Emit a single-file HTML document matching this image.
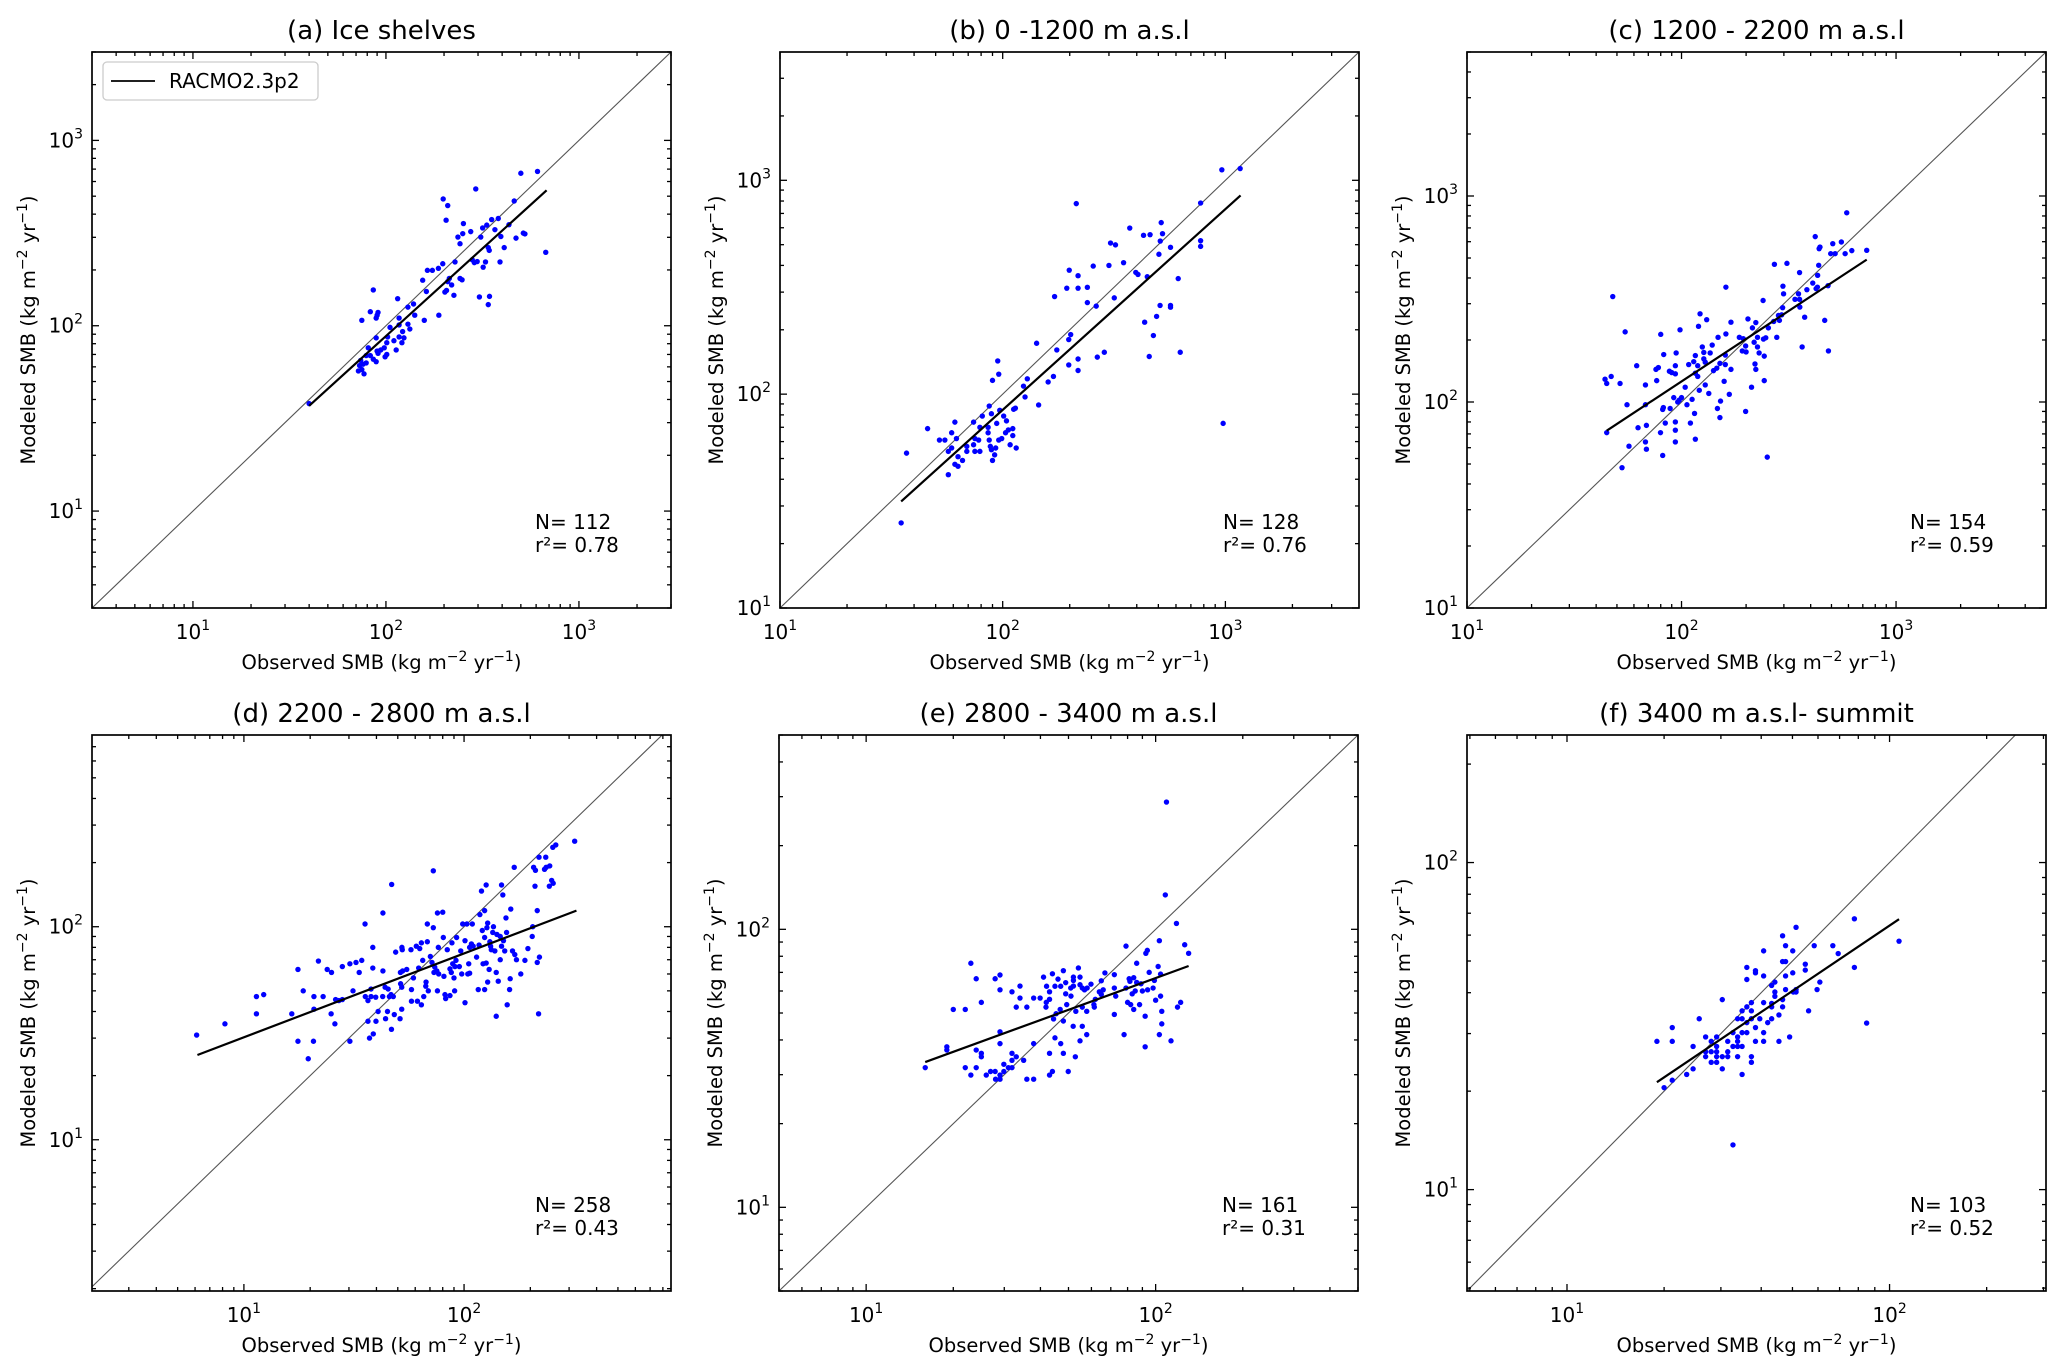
<!DOCTYPE html>
<html><head><meta charset="utf-8"><style>
html,body{margin:0;padding:0;background:#fff}
svg{display:block}
text{font-family:"DejaVu Sans","Liberation Sans",sans-serif;fill:#000}
</style></head>
<body>
<svg id="fig" width="2067" height="1368" viewBox="0 0 2067 1368" xmlns="http://www.w3.org/2000/svg"></svg>
<script>
// ---- Panel (a) Ice shelves ----
const obsA=[40,610,500,292,198,209,205,462,673,252,236,250,275,242,317,333,353,382,367,434,394,472,515,525,310,339,343,410,280,287,297,328,390,319,228,197,187,164,174,155,213,209,219,242,248,202,206,225,162,305,344,339,86,115,130,139,141,158,188,83,91,90,89,75,117,105,117,130,133,122,117,124,110,121,101,102,89,113,98,94,90,101,99,91,81,83,79,74,76,79,86,89,72,75,77,73];
const modA=[38,680,665,547,483,445,371,471,249,356,301,314,322,277,337,349,374,379,330,351,303,297,316,313,301,264,255,264,227,219,222,221,221,207,221,216,204,199,199,176,180,173,166,180,177,152,155,146,153,143,144,130,156,140,126,131,114,107,114,119,118,114,110,107,110,98,101,102,96,93,87,86,83,81,81,87,86,74,76,74,73,70,68,71,76,69,69,65,62,63,66,64,57,58,55,61];
const fitXA=[40,680], fitYA=[37,538];
// ---- Panel (b) 0-1200 m ----
const obsB=[35,37,46,57,52,55,59,61,62,57,59,63,61,63,66,69,69,74,75,74,75,79,78,79,81,86,86,87,88,89,90,92,93,96,99,103,106,111,111,108,115,94,101,97,89,87,104,112,114,90,96,95,124,126,129,145,142,160,169,175,198,198,202,218,218,266,286,171,194,199,218,218,240,240,263,214,255,300,305,321,349,317,372,429,459,515,522,510,503,567,396,405,446,614,509,567,567,491,434,475,455,627,774,774,774,964,1165,977];
const modB=[25,53,69,42,61,61,66,74,62,54,56,51,47,46,49,57,54,74,62,58,54,70,61,54,79,70,66,61,57,55,49,52,56,61,62,66,68,69,64,58,56,73,79,84,81,88,75,85,86,116,124,143,109,97,118,89,173,114,121,161,137,180,190,146,129,149,157,286,313,380,358,313,316,268,258,778,397,400,509,499,412,282,598,553,557,634,563,520,451,486,371,363,354,347,260,260,255,231,217,188,150,157,783,522,491,1120,1135,73];
const fitXB=[35,1170], fitYB=[31.5,850];
// ---- Panel (c) 1200-2200 m ----
const obsC=[47.8,54.6,44,44.8,47,51.7,44.8,55.7,52.8,56.9,62.7,61.8,67.9,67.9,68.6,67.9,68.6,76.6,76,78,80,82.6,79.8,81.7,82.3,81.7,84,87.8,90,93.6,93.6,94.4,88.5,92,93.6,93.6,93.6,98.4,96,97.4,100,104,106,112,110,115,116,108,114,116,119,116,119,121,125,127,127,129,129,134,120,122,131,136,139,141,146,148,151,152,147,151,158,160,160,161,161,167,170,170,186,192,194,199,200,199,204,214,218,222,212,220,222,226,226,230,240,243,243,241,247,251,254,271,269,278,286,283,293,296,299,297,310,338,351,355,356,355,365,375,384,409,424,430,431,436,420,438,442,465,482,484,496,507,520,556,579,589,622,730];
const modC=[325,219,129,123,133,123,71,97,48,61,75,150,121,97,77,64,59,127,144,147,213,170,71,55,94,92,79,141,139,150,137,173,93,105,80,73,64,224,100,102,105,118,97,103,79,88,66,152,157,168,150,138,133,114,185,174,162,156,121,110,233,268,251,173,189,142,146,206,154,101,93,84,126,152,169,214,361,109,244,144,206,177,203,90,175,187,253,229,195,243,118,153,144,206,185,173,311,167,127,202,205,54,229,466,246,206,249,263,265,287,335,365,471,315,335,315,289,425,185,258,351,378,355,361,412,461,635,555,565,249,367,177,525,587,525,598,525,829,543,545];
const fitXC=[44.8,730], fitYC=[72.6,491];
// ---- Panel (d) 2200-2800 m ----
const obsD=[6.1,8.2,11.4,12.3,11.4,16.5,17.6,18.6,17.6,19.6,20.7,20.8,20.8,21.8,22.9,23.9,25,24.9,25.9,26.1,27,28,28,30.3,30.3,31.3,32.3,33.4,34.3,35.5,35.6,36.6,36.6,37.2,37.8,37.8,38.5,38.5,38.7,39.7,39.8,40.7,42.7,42.8,42.8,43.8,44,44.9,45.2,45.8,46.6,46.8,46.9,47.7,48.2,48.9,51.2,51.4,51.5,52.1,52.1,52.2,52.4,52.6,54.9,57.4,57.7,57.7,58.9,60.7,61.4,62.2,62.9,64,64,64.9,65.6,67,67.2,68.1,68.1,68.8,70.3,71.5,72.5,72.5,73,73.6,75.2,75.7,75.7,76.4,76.7,80,80.5,81,81.9,82.5,83.9,86.3,86.3,87.5,88.1,88.8,90,90.6,90.9,91.9,92.5,95.2,96.6,97.6,98.6,101,101,103,104,105,106,106,108,109,110,114,116,117,118,120,121,122,124,124,124,126,126,127,128,128,130,131,132,133,135,136,138,140,140,141,143,146,146,148,148,150,151,153,155,156,157,161,162,166,169,170,173,181,189,195,204,205,210,211,215,215,220,218,232,236,245,244,250,254,261,318,235,253,219,207,163];
const modD=[31,35,47,48,39,39,63,50,29,24,29,47,41,69,47,63,61,39,35,45.5,45,45.5,65,67,29,50,68,61,69.5,103,47,45,36,30,51,47,80,64,31.4,46.7,36,40,47,62,116,52,37,40,51,47,48,33,158,47,38.7,76,37,61,54,52,41,80,78,62,63,78,50.7,44.7,57.5,81,44.7,64,79,84,43,69.5,47,52.6,55,85,103,50,72.5,68,99,183,61,64.6,62,116,50,80,60,117,89,58.5,48,46,78,47.5,63.4,61,84,67,57.5,50,65,69.5,89,65,77,60,103,44,86,103,60,67,80,60.5,83,103,81,72,50.7,82,114,147,96,67,119,50.7,89,157,67.5,99,104,55,63,85,81,78,94,100,77,61,38,92,55.5,90,70,157,81,141,86,77,110,94,43,50.7,57,77,190,74,70,60,69.5,79,90,100,155,184,119,68,72,39,186,190,193,155,165,160,242,252,212,236,212,190,121];
const fitXD=[6.15,324], fitYD=[25,119];
// ---- Panel (e) 2800-3400 m ----
const obsE=[109,108,118,126,130,103,79,92.5,93.6,86,102,95,104,99,84,81,81.5,86,89,90,85,83,93.8,98,104,100,79,80,82,84,88,105,122,119,92,105,103,113,92,77.8,72,72.8,72,72,66.8,64.9,65.9,63.9,64.9,61.9,61.2,59.8,58,56.8,55.8,54.8,54.1,54.8,52,52,52,50.9,51,48.9,48.9,48,47,46,44.9,44,43,43,42,41,41.9,41.8,39.9,37.9,35.9,34,34,33,31.9,29,27.9,29,24,23,25,22,20,29,29,19,19,16,24,25,25,22,24,23,26,26.9,27.9,29,28,29,29.9,29.9,31,31.9,31.9,31.9,33,35,35.9,37.9,37.9,43,43,44,44.9,47,48,48,44.4,45.3,49.9,52.8,51.9,54.8,55.8,57.8,55.8,53,49.3,46.8,57.8,61.4];
const modE=[287,133,105,88,82,91,87,82,84,75.5,73.5,70,69,65.5,67,66.4,65,64.4,63.7,60,60,58.6,60.6,61.5,57.5,55.6,61.5,54.6,53.6,51.5,53.6,50.7,54.6,52.5,48.7,45.7,41.8,39.7,37.8,41.8,49.4,57.5,61.5,68.7,69.7,65.3,60.6,59.6,58.3,56,53.6,63.5,61.5,60.6,61.5,63.2,72.6,67.3,67.3,65.5,62.5,61.5,57.5,64.3,58.6,71,62.4,66.2,62.4,69.2,59.6,56,62.4,67.3,54.6,52.5,56.6,56.6,52.5,56.6,62.5,52.5,59.6,68.5,66.4,60.6,66.4,75.5,54.6,51.5,51.5,42.8,38.8,37.8,36.8,31.8,36.8,35.8,34.8,31.8,31.8,29.9,29.9,30.8,30.8,29.9,28.9,28.9,30.8,32.7,31.8,31.8,33.8,35.8,34.8,33.8,28.9,28.9,38.8,35.8,29.9,30.8,40.7,38.8,35.8,46.8,47.6,49.7,30.8,34.8,44.8,39.7,44.8,41.8,52.5,50.7,53.6,51.5,50.7,52.5];
const fitXE=[16,130], fitYE=[33.3,73.8];
// ---- Panel (f) 3400 m - summit ----
const obsF=[19,20,21.2,21.2,21.2,23.5,24.6,24.6,25.7,26.9,26.9,26.9,28,28,28,29.1,29.1,29.1,29.1,29.1,30.3,30.3,30.3,31.5,31.5,31.5,32.7,32.7,32.7,33.8,33.8,33.8,33.8,33.8,34.9,34.9,34.9,34.9,34.9,36.1,36.1,36.1,36.1,36.1,37.3,37.3,37.3,37.3,37.3,38.4,38.4,38.4,38.4,39.6,40.7,40.7,40.7,40.7,40.7,41.9,43.1,43.1,43.1,43.1,44.1,44.1,44.1,45.4,45.4,46.6,46.6,46.6,46.6,47.6,47.6,47.6,47.6,49,50.1,50.1,50.3,51.3,51.3,51.3,54.8,54.8,56.1,58.4,59.6,60.8,66.7,69.3,77.8,77.8,84.9,107];
const modF=[28.4,20.5,21.6,28.4,31.3,22.5,23.4,27.4,33.3,29.3,26.4,25.5,28.4,26.4,24.5,29.3,27.4,26.4,25.5,24.5,38.1,25.5,23.4,28.4,26.4,25.5,30.2,27.4,13.7,29.3,28.4,27.4,25.5,33.3,35.2,33.3,30.2,27.4,22.5,47.8,43.9,36.2,32.4,30.2,37.3,35.2,33.3,25.5,24.5,46.7,46,31.3,28.4,33.3,53.7,45,37.3,30.2,28.4,32.4,42.1,37.1,36.2,33.3,43.1,40.2,39,34.2,28.4,59.7,49.8,38.1,36.2,55.7,49.8,45,40.9,29.3,53.7,46,40.2,63.4,40.9,40.2,48.9,46.9,35.2,55.7,40.9,43.1,55.7,52.7,67.3,47.8,32.3,57.5];
const fitXF=[19,107], fitYF=[21.3,67.1];

const NS='http://www.w3.org/2000/svg';
const svg=document.getElementById('fig');
function mk(tag,attrs,parent){const e=document.createElementNS(NS,tag);for(const k in attrs)e.setAttribute(k,attrs[k]);(parent||svg).appendChild(e);return e;}
function pow10Label(parent,x,y,exp,anchor){
  const t=mk('text',{x:x,y:y,'font-size':20,'text-anchor':anchor},parent);
  t.appendChild(document.createTextNode('10'));
  const s=mk('tspan',{dy:-9,'font-size':14},t);s.textContent=String(exp);
  return t;
}
function axisLabel(parent,x,y,prefix,rot){
  const t=mk('text',{x:x,y:y,'font-size':19.5,'text-anchor':'middle'},parent);
  if(rot)t.setAttribute('transform','rotate(-90 '+x+' '+y+')');
  t.appendChild(document.createTextNode(prefix+' SMB (kg m'));
  const s1=mk('tspan',{dy:-8,'font-size':14},t);s1.textContent='\u22122';
  const s2=mk('tspan',{dy:8},t);s2.textContent=' yr';
  const s3=mk('tspan',{dy:-8,'font-size':14},t);s3.textContent='\u22121';
  const s4=mk('tspan',{dy:8},t);s4.textContent=')';
  return t;
}

const panels=[
 {id:'a',L:92,T:52,xl:[0.477,3.477],yl:[0.477,3.477],obs:obsA,mod:modA,fx:fitXA,fy:fitYA,title:'(a) Ice shelves',N:'N= 112',r2:'r\u00b2= 0.78',legend:true},
 {id:'b',L:780,T:52,xl:[1,3.6],yl:[1,3.6],obs:obsB,mod:modB,fx:fitXB,fy:fitYB,title:'(b) 0 -1200 m a.s.l',N:'N= 128',r2:'r\u00b2= 0.76'},
 {id:'c',L:1467,T:52,xl:[1,3.699],yl:[1,3.699],obs:obsC,mod:modC,fx:fitXC,fy:fitYC,title:'(c) 1200 - 2200 m a.s.l',N:'N= 154',r2:'r\u00b2= 0.59'},
 {id:'d',L:92,T:735,xl:[0.31,2.94],yl:[0.29,2.90],obs:obsD,mod:modD,fx:fitXD,fy:fitYD,title:'(d) 2200 - 2800  m a.s.l',N:'N= 258',r2:'r\u00b2= 0.43'},
 {id:'e',L:779,T:735,xl:[0.699,2.699],yl:[0.699,2.699],obs:obsE,mod:modE,fx:fitXE,fy:fitYE,title:'(e) 2800 - 3400  m a.s.l',N:'N= 161',r2:'r\u00b2= 0.31'},
 {id:'f',L:1467,T:735,xl:[0.69,2.485],yl:[0.69,2.39],obs:obsF,mod:modF,fx:fitXF,fy:fitYF,title:'(f) 3400 m a.s.l- summit',N:'N= 103',r2:'r\u00b2= 0.52'}
];
const W=579,H=556;

panels.forEach(p=>{
  const g=mk('g',{});
  
  
  const sx=v=>p.L+(Math.log10(v)-p.xl[0])/(p.xl[1]-p.xl[0])*W;
  const sy=v=>p.T+H-(Math.log10(v)-p.yl[0])/(p.yl[1]-p.yl[0])*H;
  const clipId='clip'+p.id;
  const cp=mk('clipPath',{id:clipId},g);
  mk('rect',{x:p.L,y:p.T,width:W,height:H},cp);
  const lo=Math.min(p.xl[0],p.yl[0]), hi=Math.max(p.xl[1],p.yl[1]);
  const one=mk('line',{x1:sx(Math.pow(10,lo)),y1:sy(Math.pow(10,lo)),x2:sx(Math.pow(10,hi)),y2:sy(Math.pow(10,hi)),stroke:'#555',"stroke-width":1.1,'clip-path':'url(#'+clipId+')'},g);
  
  
  const pts=mk('g',{fill:'#0000ff'},g);
  
  
  for(let i=0;i<p.obs.length;i++){
    const c=mk('circle',{cx:sx(p.obs[i]),cy:sy(p.mod[i]),r:2.7},pts);
    
    
  }
  const fit=mk('line',{x1:sx(p.fx[0]),y1:sy(p.fy[0]),x2:sx(p.fx[1]),y2:sy(p.fy[1]),stroke:'#000','stroke-width':2.2},g);
  
  
  const tk=mk('g',{stroke:'#000','stroke-width':1.3},g);
  
  
  for(let d=Math.floor(p.xl[0]);d<=Math.ceil(p.xl[1]);d++){
    for(let m=1;m<10;m++){
      const lv=d+Math.log10(m);
      if(lv<p.xl[0]-1e-3||lv>p.xl[1]+1e-3)continue;
      const x=sx(Math.pow(10,lv)),len=m==1?7:4;
      mk('line',{x1:x,y1:p.T+H,x2:x,y2:p.T+H-len},tk);
      mk('line',{x1:x,y1:p.T,x2:x,y2:p.T+len},tk);
      if(m==1){const t=pow10Label(g,x,p.T+H+31,d,'middle');}
    }
  }
  for(let d=Math.floor(p.yl[0]);d<=Math.ceil(p.yl[1]);d++){
    for(let m=1;m<10;m++){
      const lv=d+Math.log10(m);
      if(lv<p.yl[0]-1e-3||lv>p.yl[1]+1e-3)continue;
      const y=sy(Math.pow(10,lv)),len=m==1?7:4;
      mk('line',{x1:p.L,y1:y,x2:p.L+len,y2:y},tk);
      mk('line',{x1:p.L+W,y1:y,x2:p.L+W-len,y2:y},tk);
      if(m==1){const t=pow10Label(g,p.L-9,y+7,d,'end');}
    }
  }
  const fr=mk('rect',{x:p.L,y:p.T,width:W,height:H,fill:'none',stroke:'#000','stroke-width':1.7},g);
  
  
  const ti=mk('text',{x:p.L+W/2,y:p.T-13,'font-size':26,'text-anchor':'middle'},g);
  ti.textContent=p.title;
  
  
  const xl=axisLabel(g,p.L+W/2,p.T+H+61,'Observed',false);
  
  
  const yl=axisLabel(g,p.L-57,p.T+H/2,'Modeled',true);
  
  
  const n=mk('text',{x:p.L+443,y:p.T+477,'font-size':20},g);
  n.textContent=p.N;
  
  
  const r=mk('text',{x:p.L+443,y:p.T+500,'font-size':20},g);
  r.textContent=p.r2;
  
  
  if(p.legend){
    const lg=mk('g',{},g);
    
    
    mk('rect',{x:103,y:62,width:215,height:38,rx:4,fill:'#fff',stroke:'#ccc','stroke-width':1.3},lg);
    const ll=mk('line',{x1:111,y1:81,x2:155,y2:81,stroke:'#000','stroke-width':1.8},lg);
    
    
    const lt=mk('text',{x:169,y:88,'font-size':20},lg);
    lt.textContent='RACMO2.3p2';
    
    
  }
});
</script>
</body></html>
